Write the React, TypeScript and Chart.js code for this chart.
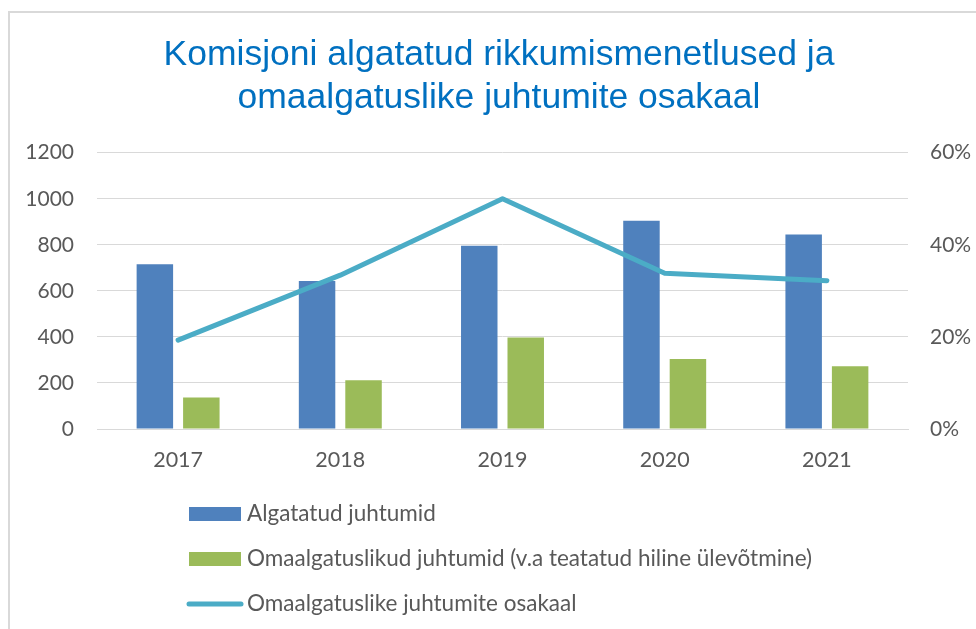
import React, { useEffect, useRef } from 'react';
import { Chart, registerables } from 'chart.js';

Chart.register(...registerables);

const titleLines = ['Komisjoni algatatud rikkumismenetlused ja', 'omaalgatuslike juhtumite osakaal'];
const years = ['2017', '2018', '2019', '2020', '2021'];
const initiatedCases = [716, 643, 796, 904, 845];
const ownInitiativeCases = [137, 212, 397, 304, 272];
const ownInitiativeShare = [19.3, 33.4, 50.0, 33.8, 32.2];
const seriesLabels = [
  'Algatatud juhtumid',
  'Omaalgatuslikud juhtumid (v.a teatatud hiline ülevõtmine)',
  'Omaalgatuslike juhtumite osakaal',
];

const BLUE = '#4F81BD';
const GREEN = '#9BBB59';
const TEAL = '#4BACC6';
const TEXT = '#595959';
const GRID = '#D9D9D9';
const FONT = 'Lato, "Open Sans", sans-serif';

const legendPlugin = {
  id: 'verticalLegend',
  afterDraw(chart: any) {
    const ctx = chart.ctx;
    const startY = chart.chartArea.bottom + 85;
    const step = 45;
    const swatchX = 189;
    const swatchW = 52;
    const textX = 247;
    const kinds = ['box', 'box', 'line'];
    const colors = [BLUE, GREEN, TEAL];
    ctx.save();
    ctx.font = `22.5px ${FONT}`;
    ctx.textBaseline = 'middle';
    ctx.textAlign = 'left';
    seriesLabels.forEach((label, i) => {
      const cy = startY + i * step;
      if (kinds[i] === 'box') {
        ctx.fillStyle = colors[i];
        ctx.fillRect(swatchX, cy - 7, swatchW, 14);
      } else {
        ctx.strokeStyle = colors[i];
        ctx.lineWidth = 5;
        ctx.lineCap = 'round';
        ctx.beginPath();
        ctx.moveTo(swatchX, cy);
        ctx.lineTo(swatchX + swatchW, cy);
        ctx.stroke();
      }
      ctx.fillStyle = TEXT;
      ctx.fillText(label, textX, cy);
    });
    ctx.restore();
  },
};

export default function App() {
  const canvasRef = useRef<HTMLCanvasElement | null>(null);

  useEffect(() => {
    if (!canvasRef.current) return;
    const chart = new Chart(canvasRef.current, {
      type: 'bar',
      data: {
        labels: years,
        datasets: [
          {
            type: 'line',
            label: seriesLabels[2],
            data: ownInitiativeShare,
            yAxisID: 'y1',
            borderColor: TEAL,
            backgroundColor: TEAL,
            borderWidth: 5,
            pointRadius: 0,
            pointHoverRadius: 0,
            tension: 0,
            borderCapStyle: 'round',
            borderJoinStyle: 'round',
            order: 0,
          } as any,
          {
            type: 'bar',
            label: seriesLabels[0],
            data: initiatedCases,
            yAxisID: 'y',
            backgroundColor: BLUE,
            categoryPercentage: 0.573,
            barPercentage: 0.785,
            order: 1,
          },
          {
            type: 'bar',
            label: seriesLabels[1],
            data: ownInitiativeCases,
            yAxisID: 'y',
            backgroundColor: GREEN,
            categoryPercentage: 0.573,
            barPercentage: 0.785,
            order: 2,
          },
        ],
      },
      options: {
        responsive: false,
        animation: false,
        devicePixelRatio: 1,
        layout: { padding: { top: 0, left: 22, right: 0, bottom: 157 } },
        plugins: {
          legend: { display: false },
          tooltip: { enabled: false },
          title: {
            display: true,
            text: titleLines,
            color: '#0070C0',
            font: { family: '"Liberation Sans", Arial, sans-serif', size: 35.5, weight: 'normal', lineHeight: 1.2 },
            padding: { top: 34, bottom: 33.5 },
          },
        },
        scales: {
          x: {
            grid: { display: false, drawTicks: false },
            border: { display: true, color: GRID, width: 1 },
            ticks: { color: TEXT, font: { family: FONT, size: 21.5 }, padding: 18 },
            afterFit: (scale: any) => { scale.height = 43; },
          },
          y: {
            position: 'left',
            min: 0,
            max: 1200,
            ticks: { stepSize: 200, color: TEXT, font: { family: FONT, size: 21 }, padding: 23, callback: (v: any) => `${v}` },
            grid: { color: GRID, lineWidth: 1, drawTicks: false },
            border: { display: false },
            afterFit: (scale: any) => { scale.width = 75; },
          },
          y1: {
            position: 'right',
            min: 0,
            max: 60,
            ticks: { stepSize: 20, color: TEXT, font: { family: FONT, size: 21 }, padding: 22, callback: (v: any) => `${v}%` },
            grid: { display: false, drawTicks: false },
            border: { display: false },
            afterFit: (scale: any) => { scale.width = 68; },
          },
        },
      },
      plugins: [legendPlugin],
    });
    return () => chart.destroy();
  }, []);

  return (
    <div style={{ position: 'fixed', left: 0, top: 0, width: 976, height: 629, background: '#fff', overflow: 'hidden' }}>
      <div style={{ position: 'absolute', left: 8, top: 11, right: -10, bottom: -10, borderLeft: '2px solid #D9D9D9', borderTop: '2px solid #D9D9D9' }} />
      <canvas ref={canvasRef} width={976} height={629} style={{ position: 'absolute', left: 0, top: 0, width: 976, height: 629 }} />
    </div>
  );
}
